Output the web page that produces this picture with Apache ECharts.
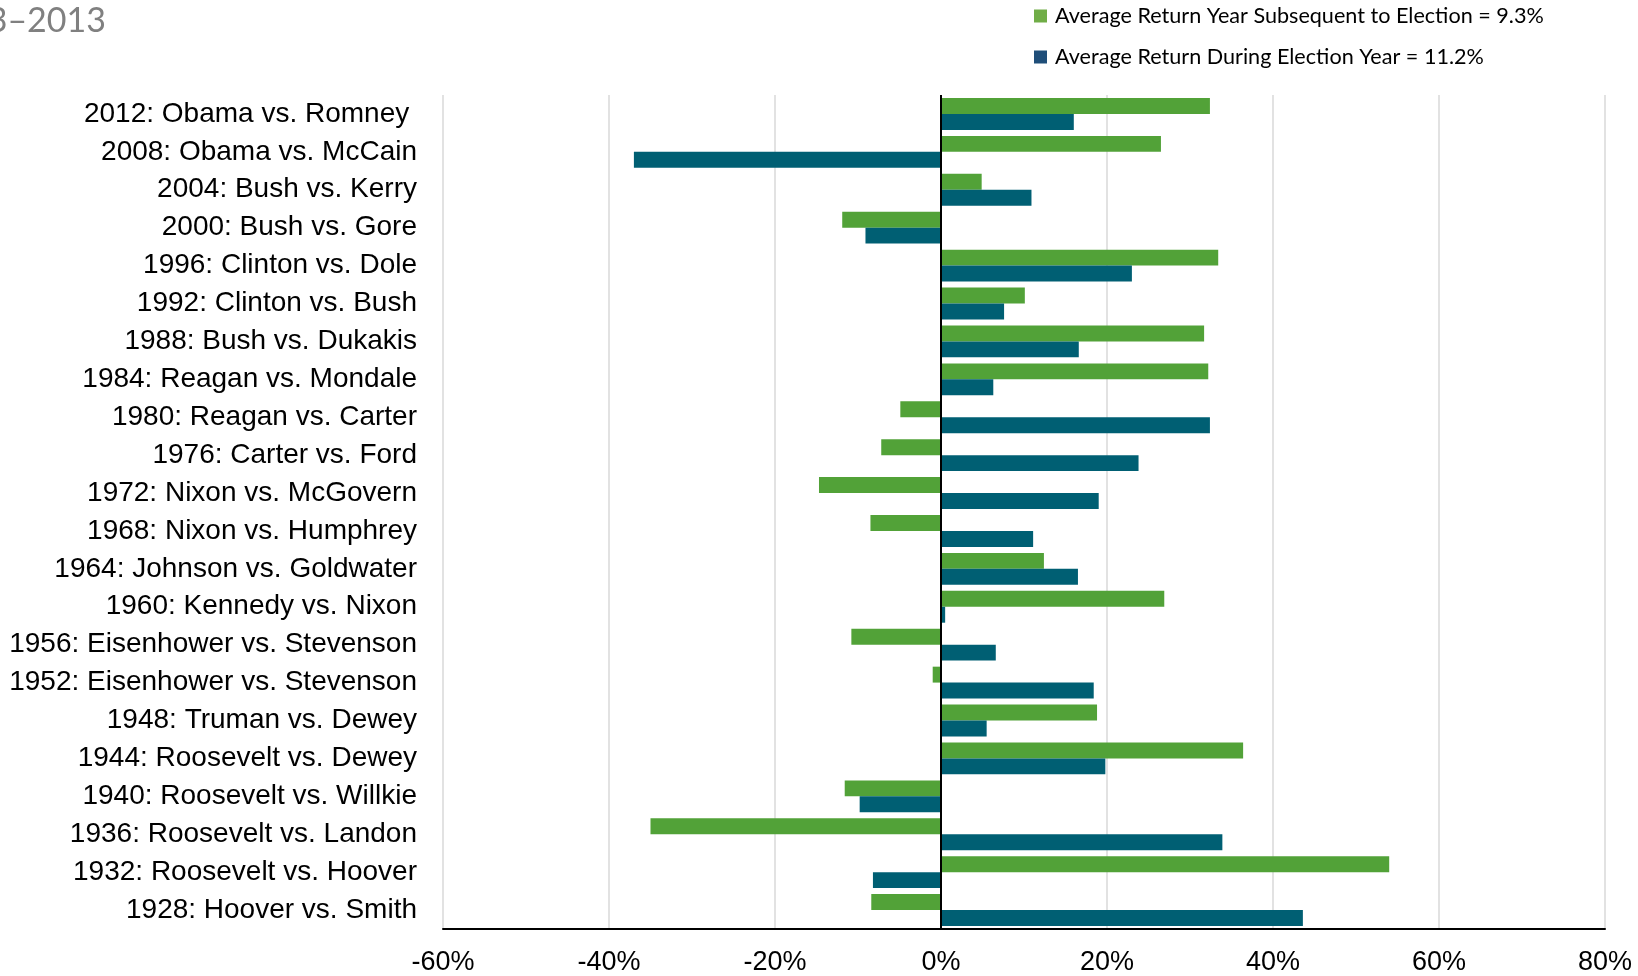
<!DOCTYPE html>
<html>
<head>
<meta charset="utf-8">
<script src="https://cdn.jsdelivr.net/npm/echarts@6/dist/echarts.min.js"></script>
<style>
html, body { margin: 0; padding: 0; background: #fff; }
#barChart { width: 1638px; height: 976px; }
</style>
</head>
<body>
<div id="barChart"></div>
<script>
// elections, top to bottom
var categories = [
    "2012: Obama vs. Romney ", "2008: Obama vs. McCain", "2004: Bush vs. Kerry",
    "2000: Bush vs. Gore", "1996: Clinton vs. Dole", "1992: Clinton vs. Bush",
    "1988: Bush vs. Dukakis", "1984: Reagan vs. Mondale", "1980: Reagan vs. Carter",
    "1976: Carter vs. Ford", "1972: Nixon vs. McGovern", "1968: Nixon vs. Humphrey",
    "1964: Johnson vs. Goldwater", "1960: Kennedy vs. Nixon", "1956: Eisenhower vs. Stevenson",
    "1952: Eisenhower vs. Stevenson", "1948: Truman vs. Dewey", "1944: Roosevelt vs. Dewey",
    "1940: Roosevelt vs. Willkie", "1936: Roosevelt vs. Landon", "1932: Roosevelt vs. Hoover",
    "1928: Hoover vs. Smith"
]

// returns in %
var subsequentYear = [32.4, 26.5, 4.9, -11.9, 33.4, 10.1, 31.7, 32.2, -4.9, -7.2, -14.7,
    -8.5, 12.4, 26.9, -10.8, -1.0, 18.8, 36.4, -11.6, -35.0, 54.0, -8.4]
var electionYear = [16.0, -37.0, 10.9, -9.1, 23.0, 7.6, 16.6, 6.3, 32.4, 23.8, 19.0,
    11.1, 16.5, 0.5, 6.6, 18.4, 5.5, 19.8, -9.8, 33.9, -8.2, 43.6]

var seriesNames = [
    "Average Return Year Subsequent to Election = 9.3%",
    "Average Return During Election Year = 11.2%"
]

var xMin = -60, xMax = 80, xStep = 20
var titleText = "3\u20132013"

function showChart(){

    var labelFont = "'Liberation Sans', Arial, sans-serif"

    var option = {
        animation: false,
        graphic: [
            {
                type: 'text',
                right: 1532,
                top: 4,
                style: {
                    text: titleText,
                    fill: '#808080',
                    font: "34px Lato, sans-serif"
                }
            }
        ],
        legend: {
            orient: 'vertical',
            left: 1029,
            top: 0,
            icon: 'rect',
            itemWidth: 13,
            itemHeight: 13,
            itemGap: 19,
            textStyle: {
                fontFamily: 'Lato, sans-serif',
                fontSize: 21.6,
                color: '#000',
                padding: [0, 0, 0, 3]
            },
            data: [
                { name: seriesNames[0], itemStyle: { color: '#70AD47' } },
                { name: seriesNames[1], itemStyle: { color: '#1F4E79' } }
            ]
        },
        grid: {
            left: 443,
            right: 33,
            top: 95,
            bottom: 44
        },
        xAxis: {
            type: 'value',
            min: xMin,
            max: xMax,
            interval: xStep,
            axisLine: { show: true, lineStyle: { color: '#000', width: 2 } },
            axisTick: { show: false },
            splitLine: { show: true, lineStyle: { color: '#d9d9d9', width: 1.5 } },
            axisLabel: {
                formatter: '{value}%',
                fontFamily: labelFont,
                fontSize: 27,
                color: '#000',
                margin: 20
            }
        },
        yAxis: {
            type: 'category',
            inverse: true,
            data: categories,
            axisLine: { show: false },
            axisTick: { show: false },
            axisLabel: {
                fontFamily: labelFont,
                fontSize: 28,
                color: '#000',
                margin: 26,
                padding: [4, 0, 0, 0]
            }
        },
        series: [
            {
                name: seriesNames[0],
                type: 'bar',
                data: subsequentYear,
                barGap: '0%',
                barCategoryGap: '16%',
                itemStyle: { color: '#52A238' },
                markLine: {
                    silent: true,
                    symbol: ['none', 'none'],
                    label: { show: false },
                    lineStyle: { color: '#000', width: 2, type: 'solid' },
                    data: [{ xAxis: 0 }]
                },
                z: 2
            },
            {
                name: seriesNames[1],
                type: 'bar',
                data: electionYear,
                barGap: '0%',
                barCategoryGap: '16%',
                itemStyle: { color: '#005F73' },
                z: 2
            }
        ]
    }

    var myChart = echarts.init(document.getElementById('barChart'))
    myChart.setOption(option)
}

showChart()
</script>
</body>
</html>
